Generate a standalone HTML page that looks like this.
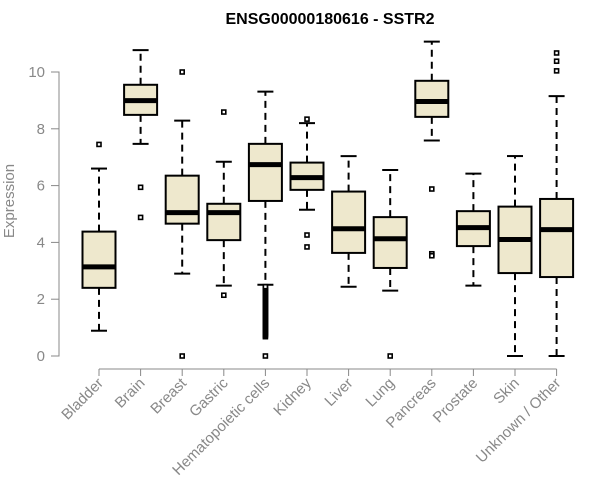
<!DOCTYPE html>
<html><head><meta charset="utf-8"><style>
body{margin:0;background:#fff;}
svg{display:block;font-family:"Liberation Sans",Arial,sans-serif;}
</style></head><body>
<svg id="chart" width="600" height="500" viewBox="0 0 600 500" xmlns="http://www.w3.org/2000/svg">
<text x="330" y="24" text-anchor="middle" font-size="16" font-weight="bold" fill="#000">ENSG00000180616 - SSTR2</text>
<text transform="translate(14,201) rotate(-90)" text-anchor="middle" font-size="15" fill="#888">Expression</text>
<g id="axes"></g>
<g id="boxes"></g>
</svg>
<script>
const categories=["Bladder","Brain","Breast","Gastric","Hematopoietic cells","Kidney","Liver","Lung","Pancreas","Prostate","Skin","Unknown / Other"];
const whiskerLow=[0.89,7.47,2.9,2.48,2.51,5.15,2.44,2.3,7.59,2.48,0,0];
const q1=[2.40,8.49,4.66,4.08,5.46,5.85,3.63,3.10,8.42,3.87,2.92,2.78];
const medians=[3.14,8.99,5.05,5.05,6.74,6.28,4.48,4.13,8.96,4.52,4.10,4.45];
const q3=[4.38,9.55,6.35,5.36,7.47,6.81,5.79,4.89,9.69,5.10,5.26,5.53];
const whiskerHigh=[6.6,10.77,8.29,6.84,9.31,8.2,7.04,6.55,11.07,6.42,7.04,9.15];
const outliers=[[7.45],[5.94,4.88],[10.0,0],[8.59,2.14],[0,0.68,0.72,0.76,0.8,0.84,0.88,0.92,0.96,1.0,1.04,1.08,1.12,1.16,1.2,1.24,1.28,1.32,1.36,1.4,1.44,1.48,1.52,1.56,1.6,1.64,1.68,1.72,1.76,1.8,1.84,1.88,1.92,1.96,2.0,2.04,2.08,2.12,2.16,2.2,2.24,2.28,2.32,2.36,2.4,2.44],[8.34,4.26,3.84],[],[0],[5.88,3.57,3.6,3.53],[],[],[10.67,10.38,10.04]];
const yTicks=[0,2,4,6,8,10];
const NS="http://www.w3.org/2000/svg";
function y(v){return 356-28.4*v;}
function x(i){return 99+41.6*i;}
function mk(tag,attrs,parent){const e=document.createElementNS(NS,tag);for(const k in attrs)e.setAttribute(k,attrs[k]);parent.appendChild(e);return e;}
const axes=document.getElementById('axes');
const yAxis=mk('path',{d:`M51 ${y(0)}H59V${y(10)}H51`,stroke:'#888',fill:'none','stroke-width':1},axes);


yTicks.forEach(t=>{
  const tk=mk('line',{x1:51,x2:59,y1:y(t),y2:y(t),stroke:'#888'},axes);
  
  
  const lb=mk('text',{x:45,y:y(t)+5,'text-anchor':'end','font-size':15,fill:'#888'},axes);
  lb.textContent=t;
  
  
});
const xAxis=mk('line',{x1:x(0),x2:x(categories.length-1),y1:369,y2:369,stroke:'#888'},axes);


categories.forEach((c,i)=>{
  const tk=mk('line',{x1:x(i),x2:x(i),y1:369,y2:376,stroke:'#888'},axes);
  
  
  const lb=mk('text',{transform:`translate(${x(i)+5},${384}) rotate(-45)`,'text-anchor':'end','font-size':15,fill:'#888'},axes);
  lb.textContent=c;
  
  
});
const boxes=document.getElementById('boxes');
categories.forEach((c,i)=>{
  const g=mk('g',{},boxes);
  
  
  const cx=x(i),hw=16.5,cw=8;
  mk('line',{x1:cx,x2:cx,y1:y(q3[i]),y2:y(whiskerHigh[i]),stroke:'#000','stroke-width':2,'stroke-dasharray':'7,5'},g);
  mk('line',{x1:cx,x2:cx,y1:y(q1[i]),y2:y(whiskerLow[i]),stroke:'#000','stroke-width':2,'stroke-dasharray':'7,5'},g);
  mk('line',{x1:cx-cw,x2:cx+cw,y1:y(whiskerHigh[i]),y2:y(whiskerHigh[i]),stroke:'#000','stroke-width':2},g);
  mk('line',{x1:cx-cw,x2:cx+cw,y1:y(whiskerLow[i]),y2:y(whiskerLow[i]),stroke:'#000','stroke-width':2},g);
  mk('rect',{x:cx-hw,y:y(q3[i]),width:2*hw,height:y(q1[i])-y(q3[i]),fill:'#EEE8CD',stroke:'#000','stroke-width':2},g);
  mk('line',{x1:cx-hw,x2:cx+hw,y1:y(medians[i]),y2:y(medians[i]),stroke:'#000','stroke-width':5},g);
  outliers[i].forEach(o=>{
    const p=mk('rect',{x:cx-2,y:y(o)-2,width:4,height:4,fill:'#fff',stroke:'#000','stroke-width':1.6},g);
    
    
  });
});
</script>
</body></html>
